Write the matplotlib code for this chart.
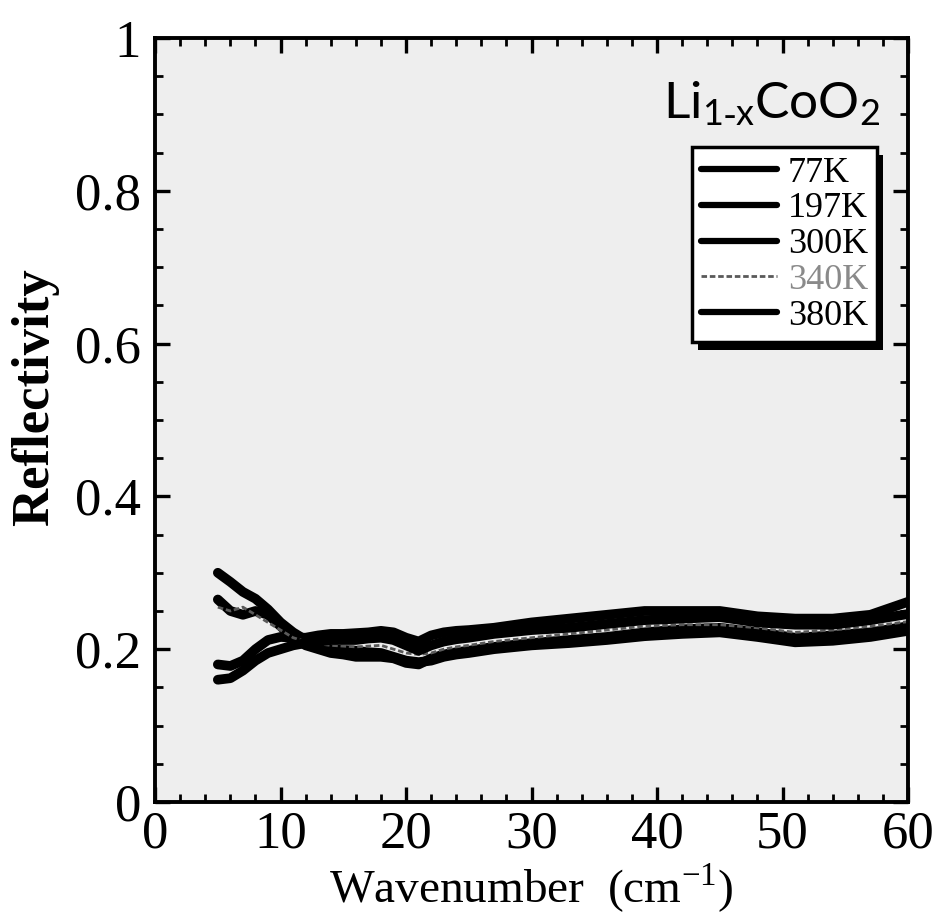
import numpy as np
import matplotlib
matplotlib.use('Agg')
import matplotlib.pyplot as plt
from matplotlib import font_manager
from matplotlib.ticker import MultipleLocator, FuncFormatter
from matplotlib.patches import Rectangle

names = set(f.name for f in font_manager.fontManager.ttflist)
sans = 'Lato' if 'Lato' in names else 'Liberation Sans'

plt.rcParams['font.family'] = ['Liberation Serif', 'DejaVu Serif']
plt.rcParams['mathtext.fontset'] = 'custom'
plt.rcParams['mathtext.rm'] = 'Liberation Serif'
plt.rcParams['mathtext.sf'] = sans

#wavenumber points (cm-1)
wn = [5, 6, 7, 8, 9, 10, 11, 12, 13, 14, 15, 16, 17, 18, 19, 20, 21, 22,
      23, 24, 25, 27, 30, 33, 36, 39, 42, 45, 48, 51, 54, 57, 60]

r77 = [0.180, 0.178, 0.185, 0.200, 0.212, 0.216, 0.215, 0.215, 0.218, 0.220, 0.220,
       0.221, 0.222, 0.224, 0.222, 0.215, 0.210, 0.218, 0.222, 0.224, 0.225, 0.228,
       0.235, 0.240, 0.245, 0.250, 0.250, 0.250, 0.243, 0.240, 0.240, 0.245, 0.262]
r197 = [0.300, 0.288, 0.275, 0.266, 0.252, 0.235, 0.222, 0.212, 0.205, 0.200, 0.199,
        0.198, 0.196, 0.195, 0.190, 0.185, 0.183, 0.185, 0.190, 0.193, 0.195, 0.200,
        0.205, 0.208, 0.212, 0.217, 0.220, 0.222, 0.216, 0.209, 0.211, 0.216, 0.224]
r300 = [0.265, 0.250, 0.245, 0.250, 0.245, 0.230, 0.215, 0.205, 0.200, 0.195, 0.193,
        0.190, 0.190, 0.190, 0.188, 0.182, 0.180, 0.188, 0.193, 0.196, 0.198, 0.203,
        0.208, 0.212, 0.216, 0.222, 0.226, 0.228, 0.222, 0.215, 0.218, 0.222, 0.230]
r340 = [0.255, 0.250, 0.255, 0.245, 0.235, 0.225, 0.215, 0.210, 0.207, 0.205, 0.204,
        0.203, 0.204, 0.205, 0.200, 0.195, 0.193, 0.195, 0.200, 0.203, 0.205, 0.210,
        0.215, 0.220, 0.225, 0.230, 0.232, 0.232, 0.228, 0.222, 0.225, 0.230, 0.236]
r380 = [0.160, 0.162, 0.172, 0.185, 0.195, 0.200, 0.205, 0.208, 0.210, 0.212, 0.212,
        0.212, 0.214, 0.215, 0.212, 0.205, 0.198, 0.205, 0.210, 0.213, 0.215, 0.220,
        0.225, 0.228, 0.233, 0.238, 0.240, 0.242, 0.235, 0.232, 0.232, 0.238, 0.246]

temps = ['77K', '197K', '300K', '340K', '380K']
curves = [r77, r197, r300, r340, r380]

fig = plt.figure(figsize=(9.4, 9.18), dpi=100)
ax = fig.add_axes([0.165, 0.1264, 0.801, 0.8322])
ax.set_facecolor('#eeeeee')

for t, r in zip(temps, curves):
    if t == '340K':
        ax.plot(wn, r, color='#5a5a5a', lw=2.0, ls=(0, (2, 1)), label=t)
    else:
        ax.plot(wn, r, color='black', lw=7, solid_capstyle='round', label=t)

ax.set_xlim(0, 60)
ax.set_ylim(0, 1)
ax.xaxis.set_major_locator(MultipleLocator(10))
ax.xaxis.set_minor_locator(MultipleLocator(2))
ax.yaxis.set_major_locator(MultipleLocator(0.2))
ax.yaxis.set_minor_locator(MultipleLocator(0.05))
ax.yaxis.set_major_formatter(FuncFormatter(lambda v, p: '%g' % round(v, 2)))
ax.tick_params(which='both', direction='in', top=True, right=True, labelsize=38)
ax.tick_params(which='major', length=11, width=2.4, pad=6)
ax.tick_params(which='minor', length=6, width=2.0)
ax.tick_params(axis='y', which='major', pad=10)
for s in ax.spines.values():
    s.set_linewidth(2.8)

ax.set_xlabel('Wavenumber  (cm$^{-1}$)', fontsize=34, labelpad=2)
ax.set_ylabel('Reflectivity', fontsize=38, fontweight='bold')
ax.yaxis.set_label_coords(-0.127, 0.53)

ax.text(0.963, 0.895, r'$\mathsf{Li_{1\text{-}x}CoO_2}$', transform=ax.transAxes,
        ha='right', va='baseline', fontsize=37)

leg = ax.legend(loc='upper right', bbox_to_anchor=(0.959, 0.857), fontsize=26,
                frameon=True, fancybox=False, edgecolor='black', facecolor='white',
                framealpha=1, handlelength=2.1, handletextpad=0.3, labelspacing=0.07,
                borderpad=0.25, borderaxespad=0)
leg.get_frame().set_linewidth(2.5)
for h in leg.get_lines():
    if h.get_linestyle() == '-':
        h.set_linewidth(4.5)
leg.get_texts()[3].set_color('#8a8a8a')

# heavy drop shadow behind the legend box
fig.canvas.draw()
bb = leg.get_frame().get_window_extent()
shadow = Rectangle((bb.x0 + 6, bb.y0 - 8), bb.width, bb.height, transform=None,
                   facecolor='black', edgecolor='none', zorder=leg.get_zorder() - 0.1,
                   clip_on=False)
ax.add_artist(shadow)

fig.savefig('out.png', dpi=100)
